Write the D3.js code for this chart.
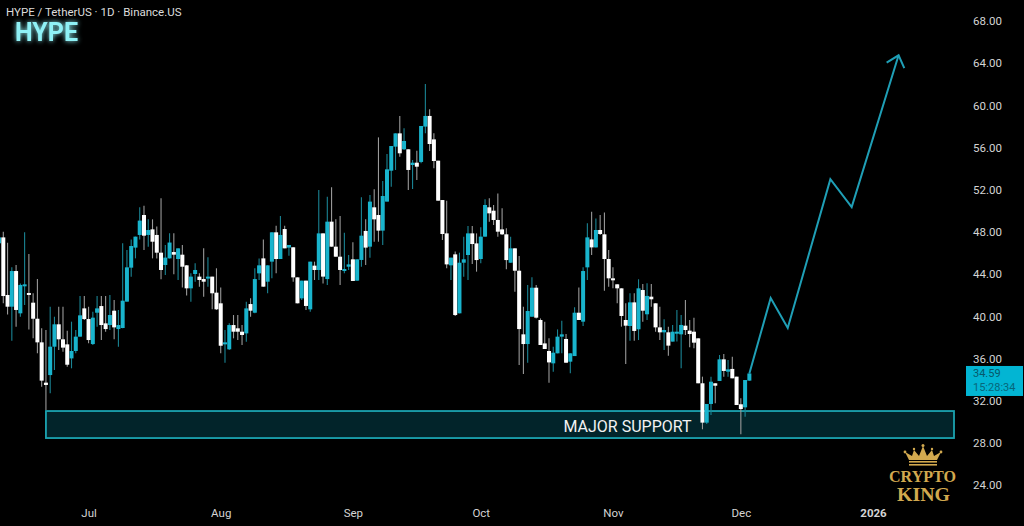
<!DOCTYPE html>
<html>
<head>
<meta charset="utf-8">
<style>
  html, body { margin: 0; padding: 0; background: #000; }
  svg { display: block; }
  .axis text { font-family: Roboto, sans-serif; font-size: 11.5px; fill: #d4d4d4; }
  .axis path, .axis line { display: none; }
</style>
<script src="https://cdn.jsdelivr.net/npm/d3@7"></script>
</head>
<body>
<svg id="chart" width="1024" height="526"></svg>
<script>
var width = 1024, height = 526;

// first candle is half off the left edge, one candle per day after it
var firstDay = new Date(2025, 5, 10);

var opens = [
  46.93, 47.49, 42.03, 40.92, 44.30, 40.29, 42.94, 42.22, 41.30, 39.78,
  37.54, 33.72, 34.44, 37.13, 39.25, 37.83, 37.35, 36.02, 36.72, 38.08,
  40.76, 39.75, 37.38, 40.35, 40.98, 39.34, 39.18, 40.54, 38.80, 38.90,
  41.40, 44.62, 46.52, 47.72, 49.61, 47.72, 48.25, 47.72, 46.04, 44.87,
  45.50, 46.10, 45.44, 45.85, 44.84, 42.66, 44.02, 43.77, 43.54, 43.67,
  43.77, 42.25, 41.24, 37.38, 36.88, 39.18, 38.87, 38.55, 38.39, 41.17,
  40.35, 44.08, 45.50, 43.29, 45.19, 47.97, 45.44, 48.28, 46.52, 46.55,
  43.70, 41.71, 43.39, 40.67, 44.81, 44.40, 47.87, 43.54, 48.98, 46.61,
  45.66, 44.33, 44.71, 45.41, 43.39, 45.35, 48.10, 46.61, 50.34, 49.61,
  48.13, 50.88, 53.81, 56.09, 57.35, 55.84, 55.84, 54.35, 54.57, 54.64,
  57.99, 59.00, 56.78, 54.76, 51.03, 47.87, 44.84, 45.88, 40.29, 45.09,
  45.82, 47.87, 46.92, 45.44, 47.56, 50.34, 50.02, 49.14, 48.25, 47.78,
  45.09, 46.45, 44.33, 38.30, 37.38, 39.97, 42.72, 39.66, 37.44, 36.72,
  35.55, 36.50, 38.08, 37.86, 35.71, 36.24, 40.35, 39.50, 44.65, 47.30,
  46.54, 48.19, 47.78, 45.44, 43.61, 43.04, 42.66, 39.66, 39.09, 41.33,
  38.78, 42.50, 40.20, 41.87, 41.24, 38.96, 38.49, 38.49, 37.61, 38.40,
  38.30, 39.12, 38.65, 38.55, 37.92, 33.66, 29.93, 31.70, 33.66, 33.88,
  35.93, 34.76, 35.02, 34.29, 31.67, 31.38, 33.91
];
var highs = [
  48.82, 48.03, 46.99, 44.65, 44.87, 43.13, 47.97, 45.91, 42.19, 43.54,
  38.87, 38.71, 40.92, 39.97, 40.92, 40.92, 38.65, 39.50, 38.71, 41.93,
  41.93, 40.92, 40.45, 41.93, 41.93, 41.93, 42.03, 41.55, 40.61, 46.93,
  46.29, 47.30, 47.56, 50.34, 50.50, 49.20, 49.20, 48.51, 51.19, 46.77,
  47.87, 47.87, 46.45, 46.77, 44.87, 44.08, 45.03, 44.08, 46.45, 45.60,
  43.77, 44.56, 42.75, 38.71, 39.34, 40.13, 40.13, 39.18, 41.40, 41.71,
  44.56, 45.50, 47.30, 44.84, 47.97, 48.60, 49.52, 48.60, 46.77, 46.55,
  43.70, 43.39, 43.39, 45.19, 45.19, 51.98, 47.87, 51.35, 52.24, 49.20,
  49.52, 47.94, 45.82, 47.02, 45.41, 51.29, 49.20, 51.51, 52.05, 56.97,
  52.83, 55.39, 56.15, 57.35, 59.00, 57.83, 55.84, 54.83, 55.71, 58.05,
  62.03, 59.63, 57.35, 54.76, 51.03, 50.97, 45.57, 46.14, 46.04, 47.56,
  48.57, 48.57, 47.87, 48.44, 51.10, 51.19, 50.56, 51.66, 50.24, 48.35,
  47.56, 46.45, 45.72, 40.92, 42.97, 43.70, 42.97, 39.81, 39.50, 37.92,
  37.13, 38.77, 39.59, 38.33, 36.50, 40.86, 42.75, 44.65, 48.82, 49.93,
  49.29, 49.61, 49.86, 46.29, 44.65, 43.04, 42.66, 41.24, 42.19, 42.19,
  43.52, 43.07, 43.14, 43.07, 41.24, 40.92, 39.72, 39.03, 39.19, 40.61,
  40.13, 41.56, 39.66, 39.88, 37.92, 34.29, 31.70, 34.29, 33.66, 36.34,
  36.44, 35.87, 36.18, 34.29, 32.23, 33.97, 34.59
];
var lows = [
  38.39, 41.24, 40.19, 37.70, 39.03, 39.97, 41.08, 38.77, 37.92, 36.50,
  33.34, 31.13, 32.71, 34.92, 36.81, 36.66, 35.23, 35.08, 36.50, 38.08,
  39.66, 37.45, 37.29, 39.03, 37.76, 38.55, 38.71, 37.83, 37.13, 38.87,
  41.40, 43.77, 45.50, 47.30, 46.29, 46.61, 45.50, 45.50, 43.51, 43.92,
  45.50, 43.99, 43.45, 42.75, 41.97, 41.40, 43.29, 42.82, 41.87, 42.82,
  40.67, 40.61, 36.50, 35.61, 36.81, 37.92, 37.76, 37.29, 37.60, 39.97,
  40.29, 43.45, 42.82, 42.19, 43.61, 44.08, 45.44, 46.45, 45.76, 43.29,
  41.24, 41.55, 40.61, 40.45, 43.45, 43.45, 43.13, 42.98, 46.61, 45.66,
  42.98, 44.08, 44.40, 43.36, 43.39, 44.71, 44.87, 45.57, 47.08, 47.08,
  46.77, 50.88, 52.30, 53.88, 55.14, 55.77, 51.98, 52.08, 52.93, 54.51,
  57.35, 55.68, 54.04, 50.97, 47.24, 44.56, 43.45, 40.04, 40.29, 43.77,
  43.45, 44.96, 44.24, 45.03, 47.56, 48.98, 48.66, 47.56, 47.71, 44.46,
  45.09, 42.34, 35.39, 34.54, 35.61, 39.97, 39.81, 37.29, 36.91, 33.72,
  34.76, 36.50, 36.50, 35.61, 34.60, 36.24, 39.66, 39.09, 43.45, 45.82,
  46.54, 47.71, 42.44, 42.82, 42.66, 41.24, 39.03, 35.49, 37.70, 37.70,
  37.76, 39.50, 39.66, 40.92, 38.55, 37.76, 36.82, 36.28, 37.61, 37.61,
  35.08, 38.24, 37.07, 36.97, 33.66, 29.30, 29.80, 30.65, 31.76, 33.88,
  34.29, 34.29, 34.13, 31.60, 28.82, 30.50, 33.91
];
var closes = [
  47.49, 41.93, 40.92, 44.30, 40.61, 42.98, 43.04, 42.12, 39.78, 37.54,
  33.91, 33.50, 37.13, 39.25, 37.83, 37.04, 35.42, 36.72, 38.08, 40.10,
  39.75, 37.76, 39.88, 40.76, 39.18, 38.80, 40.13, 38.96, 39.18, 41.49,
  44.65, 46.67, 47.56, 49.08, 47.65, 48.19, 47.08, 46.04, 44.40, 45.57,
  47.00, 45.85, 46.45, 44.71, 42.66, 43.77, 44.40, 43.45, 43.29, 43.77,
  42.19, 40.67, 37.22, 37.54, 39.18, 38.55, 38.55, 38.24, 40.76, 40.54,
  43.54, 44.84, 42.82, 44.84, 47.97, 45.44, 47.72, 46.45, 46.77, 43.70,
  41.24, 43.39, 40.99, 45.19, 44.40, 47.87, 43.77, 48.98, 46.61, 45.66,
  44.40, 44.49, 44.93, 43.36, 45.41, 47.65, 46.52, 50.88, 49.20, 48.13,
  51.41, 53.94, 56.15, 57.35, 55.46, 56.63, 53.88, 54.57, 54.19, 58.05,
  59.00, 56.34, 54.73, 50.97, 47.81, 44.93, 45.57, 40.13, 45.09, 45.41,
  47.87, 46.86, 45.34, 47.56, 50.56, 49.77, 49.14, 48.03, 47.78, 45.34,
  46.45, 44.33, 38.80, 37.38, 40.51, 42.72, 39.88, 37.29, 36.91, 35.64,
  36.56, 38.08, 38.30, 35.61, 36.50, 40.35, 39.66, 44.30, 47.49, 46.54,
  48.19, 47.81, 45.44, 43.61, 43.45, 42.66, 40.04, 39.12, 41.33, 38.62,
  42.66, 40.54, 41.94, 41.62, 38.96, 38.49, 38.71, 37.23, 38.55, 38.55,
  39.19, 38.71, 38.33, 37.51, 33.66, 29.93, 31.70, 33.81, 33.43, 35.93,
  34.83, 34.98, 34.13, 31.60, 31.22, 33.97, 34.59
];

var priceTicks = [24, 28, 32, 36, 40, 44, 48, 52, 56, 60, 64, 68];
var monthTicks = [new Date(2025, 6, 1), new Date(2025, 7, 1), new Date(2025, 8, 1),
  new Date(2025, 9, 1), new Date(2025, 10, 1), new Date(2025, 11, 1), new Date(2026, 0, 1)];
var monthLabels = ['Jul', 'Aug', 'Sep', 'Oct', 'Nov', 'Dec', '2026'];

var supportDays = [new Date(2025, 5, 21), new Date(2026, 0, 20)];
var supportPrices = [31.03, 28.47];

var forecastDays = [new Date(2025, 11, 3), new Date(2025, 11, 8), new Date(2025, 11, 12),
  new Date(2025, 11, 22), new Date(2025, 11, 27), new Date(2026, 0, 7)];
var forecastPrices = [34.59, 41.74, 38.90, 53.00, 50.37, 64.75];

var tealUp = '#19b4cd', whiteDown = '#ffffff', gold = '#d2a94f';

var svg = d3.select('#chart');

var x = d3.scaleTime()
  .domain([new Date(2025, 5, 11), new Date(2026, 0, 1)])
  .range([3.3, 873]);
var y = d3.scaleLinear()
  .domain([24, 68])
  .range([485.2, 21]);

var candles = closes.map(function(c, i) {
  return {day: d3.timeDay.offset(firstDay, i), o: opens[i], h: highs[i], l: lows[i], c: c};
});
var bodyW = 4;

var defs = svg.append('defs');
var glow = defs.append('filter').attr('id', 'glow')
  .attr('x', '-30%').attr('y', '-50%').attr('width', '160%').attr('height', '200%');
glow.append('feGaussianBlur').attr('stdDeviation', 2.4).attr('result', 'b');
var merge = glow.append('feMerge');
merge.append('feMergeNode').attr('in', 'b');
merge.append('feMergeNode').attr('in', 'SourceGraphic');

svg.append('rect').attr('width', width).attr('height', height).attr('fill', '#000');

// major support zone
svg.append('rect')
  .attr('x', x(supportDays[0]))
  .attr('y', y(supportPrices[0]))
  .attr('width', x(supportDays[1]) - x(supportDays[0]))
  .attr('height', y(supportPrices[1]) - y(supportPrices[0]))
  .attr('fill', '#02242a')
  .attr('stroke', '#1ba3b0')
  .attr('stroke-width', 1.8);

var wicks = svg.append('g');
wicks.selectAll('line').data(candles).enter().append('line')
  .attr('x1', function(d) { return x(d.day); })
  .attr('x2', function(d) { return x(d.day); })
  .attr('y1', function(d) { return y(d.h); })
  .attr('y2', function(d) { return y(d.l); })
  .attr('stroke', function(d) { return d.c >= d.o ? '#1a8494' : '#9a9a9a'; })
  .attr('stroke-width', 1.1);

var bodies = svg.append('g');
bodies.selectAll('rect').data(candles).enter().append('rect')
  .attr('x', function(d) { return x(d.day) - bodyW / 2; })
  .attr('width', bodyW)
  .attr('y', function(d) { return y(Math.max(d.o, d.c)); })
  .attr('height', function(d) { return Math.max(2, Math.abs(y(d.o) - y(d.c))); })
  .attr('fill', function(d) { return d.c >= d.o ? tealUp : whiteDown; });

svg.append('text')
  .attr('x', 627.5).attr('y', 432)
  .attr('text-anchor', 'middle')
  .attr('font-family', 'Roboto, sans-serif')
  .attr('font-size', 16)
  .attr('fill', '#f2f2f2')
  .text('MAJOR SUPPORT');

// projected path with arrow head
var forecast = forecastDays.map(function(d, i) { return [x(d), y(forecastPrices[i])]; });
var line = d3.line();
svg.append('path')
  .attr('d', line(forecast))
  .attr('fill', 'none')
  .attr('stroke', '#1f9fb6')
  .attr('stroke-width', 2);
var tip = forecast[forecast.length - 1];
var prev = forecast[forecast.length - 2];
var ang = Math.atan2(tip[1] - prev[1], tip[0] - prev[0]);
var headLen = 14;
svg.append('path')
  .attr('d', line([
    [tip[0] - headLen * Math.cos(ang - 0.72), tip[1] - headLen * Math.sin(ang - 0.72)],
    tip,
    [tip[0] - headLen * Math.cos(ang + 0.72), tip[1] - headLen * Math.sin(ang + 0.72)]
  ]))
  .attr('fill', 'none')
  .attr('stroke', '#1f9fb6')
  .attr('stroke-width', 2);

// axes
var yAxis = d3.axisRight(y)
  .tickValues(priceTicks)
  .tickFormat(d3.format('.2f'))
  .tickSize(0)
  .tickPadding(0);
svg.append('g').attr('class', 'axis').attr('transform', 'translate(973,0)').call(yAxis);

var xAxis = d3.axisBottom(x)
  .tickValues(monthTicks)
  .tickFormat(function(d, i) { return monthLabels[i]; })
  .tickSize(0)
  .tickPadding(0);
var xg = svg.append('g').attr('class', 'axis').attr('transform', 'translate(0,509)').call(xAxis);
xg.selectAll('text').filter(function(d, i) { return i === 6; }).style('font-weight', 'bold');

// last price tag
var lastClose = closes[closes.length - 1];
var tag = svg.append('g');
tag.append('rect')
  .attr('x', 966).attr('y', y(lastClose) - 7.5)
  .attr('width', 57).attr('height', 30)
  .attr('fill', '#02b5d3');
tag.append('text')
  .attr('x', 973).attr('y', y(lastClose) + 4)
  .attr('font-family', 'Roboto, sans-serif').attr('font-size', 11)
  .attr('fill', '#07586a')
  .text(lastClose.toFixed(2));
tag.append('text')
  .attr('x', 973).attr('y', y(lastClose) + 18)
  .attr('font-family', 'Roboto, sans-serif').attr('font-size', 11)
  .attr('fill', '#07667a')
  .text('15:28:34');

// header
svg.append('text')
  .attr('x', 6).attr('y', 16)
  .attr('font-family', 'Roboto, sans-serif').attr('font-size', 11.5)
  .attr('fill', '#dcdcdc')
  .text('HYPE / TetherUS · 1D · Binance.US');
svg.append('text')
  .attr('x', 15).attr('y', 41)
  .attr('font-family', 'Roboto, sans-serif').attr('font-size', 25).attr('font-weight', 700)
  .attr('fill', '#8ff1f6')
  .attr('filter', 'url(#glow)')
  .text('HYPE');

// crypto king logo
var logo = svg.append('g').attr('fill', gold);
logo.append('path')
  .attr('d', 'M909 460 L905 452 L912 456 L914 450 L919 456 L923 446 L927 456 L932 450 L934 456 L941 452 L937 460 Z');
[[905, 452, 1.4], [914, 449, 1.2], [923, 445.5, 1.5], [932, 449, 1.2], [941, 452, 1.4]].forEach(function(c) {
  logo.append('circle').attr('cx', c[0]).attr('cy', c[1]).attr('r', c[2]);
});
logo.append('rect').attr('x', 909).attr('y', 461).attr('width', 28).attr('height', 1.6);
logo.append('rect').attr('x', 909).attr('y', 464).attr('width', 28).attr('height', 1.6);
logo.append('text')
  .attr('x', 889).attr('y', 481.5)
  .attr('font-family', '"Liberation Serif", serif').attr('font-weight', 700).attr('font-size', 16.5)
  .attr('textLength', 67).attr('lengthAdjust', 'spacingAndGlyphs')
  .text('CRYPTO');
logo.append('text')
  .attr('x', 897).attr('y', 501)
  .attr('font-family', '"Liberation Serif", serif').attr('font-weight', 700).attr('font-size', 18)
  .attr('textLength', 53).attr('lengthAdjust', 'spacingAndGlyphs')
  .text('KING');
</script>
</body>
</html>
